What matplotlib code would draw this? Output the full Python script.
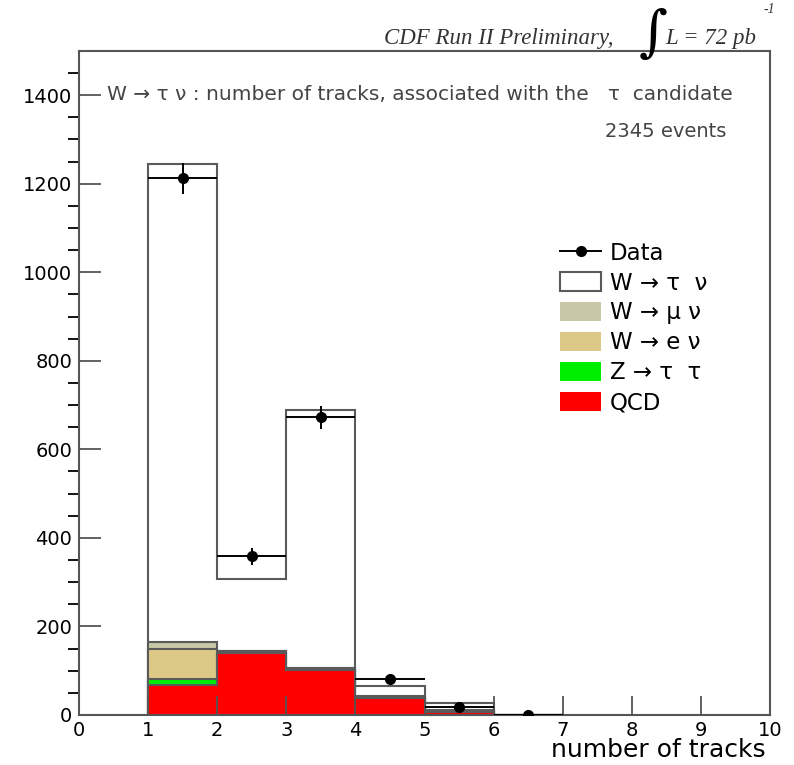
import numpy as np
import matplotlib
matplotlib.use("Agg")
import matplotlib.pyplot as plt
from matplotlib.patches import Patch
from matplotlib.lines import Line2D

# bin edges (number of tracks 1..7)
edges = np.array([1, 2, 3, 4, 5, 6, 7])
centers = 0.5 * (edges[:-1] + edges[1:])

# stacked MC components
qcd = np.array([68, 139, 101, 38, 6, 0])
ztautau = np.array([13, 2, 1, 1, 1, 0])
wenu = np.array([69, 3, 2, 2, 3, 0])
wmunu = np.array([14, 1, 1, 1, 2, 0])
wtaunu = np.array([1081, 162, 583, 24, 14, 1])

# data points
data = np.array([1212, 358, 673, 81, 18, 0])

plt.rcParams['font.family'] = ['DejaVu Sans']

fig = plt.figure(figsize=(7.94, 7.65), dpi=100)
ax = fig.add_axes([0.0995, 0.0654, 0.8705, 0.868])

edge_col = '#5a5a5a'
s1 = qcd
s2 = s1 + ztautau
s3 = s2 + wenu
s4 = s3 + wmunu
s5 = s4 + wtaunu

c_wtau = 'white'
c_wmu = '#c8c8a6'
c_we = '#dcc887'
c_z = '#00ee00'
c_qcd = '#ff0000'

for vals, col in [(s5, c_wtau), (s4, c_wmu), (s3, c_we), (s2, c_z), (s1, c_qcd)]:
    ax.stairs(vals, edges, fill=True, facecolor=col, edgecolor=edge_col, linewidth=1.5)

ax.errorbar(centers, data, yerr=np.sqrt(data), xerr=0.5, fmt='o', color='black',
            ms=7, lw=1.4, capsize=0, zorder=5)

ax.set_xlim(0, 10)
ax.set_ylim(0, 1500)
ax.set_xticks(np.arange(0, 11, 1))
ax.set_yticks(np.arange(0, 1401, 200))
ax.set_yticks(np.arange(0, 1500, 50), minor=True)
ax.tick_params(axis='both', direction='in', colors='#555555', labelcolor='black',
               labelsize=14)
ax.tick_params(axis='x', which='major', length=14, width=1.3, pad=4)
ax.tick_params(axis='y', which='major', length=16, width=1.3, pad=5)
ax.tick_params(axis='y', which='minor', length=8, width=1.3)
for sp in ax.spines.values():
    sp.set_color('#555555')
    sp.set_linewidth(1.5)

ax.set_xlabel('number of tracks', fontsize=18, ha='right')
ax.xaxis.set_label_coords(0.993, -0.064, transform=ax.transAxes)
ax.xaxis.label.set_va('baseline')

ax.text(0.04, 0.934, 'W \u2192 \u03c4 \u03bd : number of tracks, associated with the   \u03c4  candidate',
        transform=ax.transAxes, fontsize=14.5, color='#444444', va='center')
ax.text(0.937, 0.879, '2345 events', transform=ax.transAxes, fontsize=14,
        color='#444444', va='center', ha='right')

handles = [
    Line2D([0], [0], color='black', marker='o', ms=7, lw=1.4),
    Patch(facecolor='white', edgecolor=edge_col, linewidth=1.5),
    Patch(facecolor=c_wmu, edgecolor='none'),
    Patch(facecolor=c_we, edgecolor='none'),
    Patch(facecolor=c_z, edgecolor='none'),
    Patch(facecolor=c_qcd, edgecolor='none'),
]
labels = ['Data', 'W \u2192 \u03c4  \u03bd', 'W \u2192 \u03bc \u03bd', 'W \u2192 e \u03bd',
          'Z \u2192 \u03c4  \u03c4', 'QCD']
ax.legend(handles, labels, loc='upper left', bbox_to_anchor=(0.68, 0.73),
          frameon=False, fontsize=16.5, handlelength=1.75, handleheight=0.9,
          labelspacing=0.3, handletextpad=0.4, borderpad=0)

# header
fig.text(0.773, 0.950, 'CDF Run II Preliminary,', fontsize=16.5, style='italic',
         family='Liberation Serif', color='#333333', ha='right', va='center')
fig.text(0.823, 0.955, '\u222b', fontsize=40, family='DejaVu Serif', color='black',
         ha='center', va='center')
fig.text(0.838, 0.950, 'L = 72 pb', fontsize=16.5, style='italic',
         family='Liberation Serif', color='#333333', ha='left', va='center')
fig.text(0.962, 0.987, '-1', fontsize=10, style='italic',
         family='Liberation Serif', color='#333333', ha='left', va='center')

fig.savefig('out.png', dpi=100)
